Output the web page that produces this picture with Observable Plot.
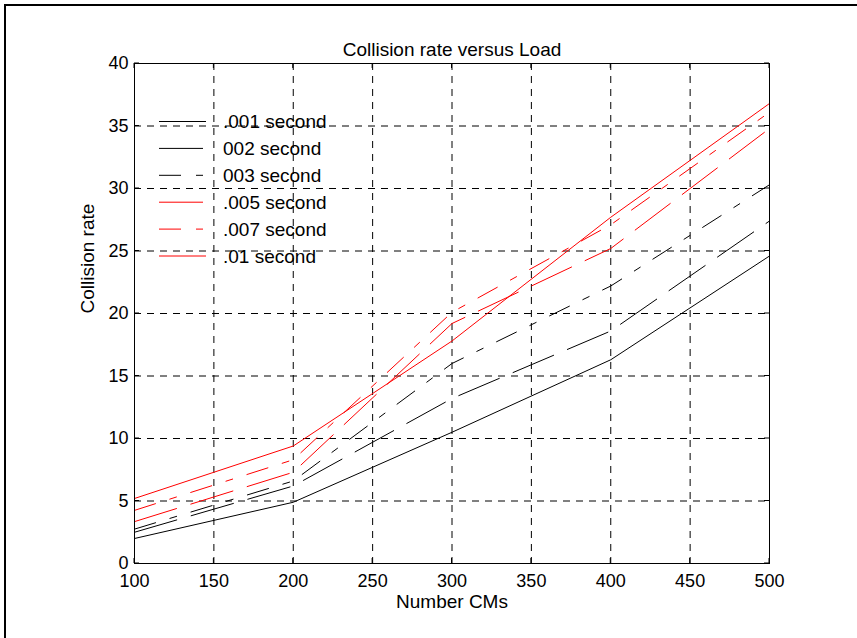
<!DOCTYPE html>
<html><head><meta charset="utf-8">
<script src="https://cdn.jsdelivr.net/npm/d3@7"></script>
<script src="https://cdn.jsdelivr.net/npm/@observablehq/plot@0.6"></script>
<style>
body{margin:0;background:#fff;}
#wrap{position:relative;width:857px;height:638px;overflow:hidden;font-family:"Liberation Sans",Arial,sans-serif;background:#fff;}
#frame{position:absolute;left:4px;top:4px;width:900px;height:700px;border-left:2px solid #000;border-top:2px solid #000;}
#wrap svg{position:absolute;left:0;top:0;}
</style></head><body><div id="wrap"><div id="frame"></div></div>
<script>
// ---- data ----
const loads = [100, 200, 300, 400, 500];
const seriesNames = [".001 second", "002 second", "003 second", ".005 second", ".007 second", ".01 second"];
const s001 = [2.0, 4.9, 10.5, 16.3, 24.6];
const s002 = [2.5, 6.2, 13.2, 18.6, 27.4];
const s003 = [2.75, 6.6, 16.0, 22.2, 30.3];
const s005 = [3.35, 7.3, 19.2, 25.2, 34.8];
const s007 = [4.25, 8.3, 20.1, 27.1, 36.1];
const s01  = [5.2, 9.4, 17.8, 27.7, 36.8];
const xTicks = [100, 150, 200, 250, 300, 350, 400, 450, 500];
const yTicks = [0, 5, 10, 15, 20, 25, 30, 35, 40];
const titleText = "Collision rate versus Load";
const xLabel = "Number CMs";
const yLabel = "Collision rate";

// ---- styles ----
const seriesValues = [s001, s002, s003, s005, s007, s01];
const seriesColors = ["#000000", "#000000", "#000000", "#ff0000", "#ff0000", "#ff0000"];
const seriesDash = [null, "44,15", "22,15,7,15", "44,15", "22,15,7,15", null];
const FS = 19, TFS = 18;

const lineMarks = seriesValues.map((vals, i) =>
  Plot.lineY(loads.map((x, j) => ({x, y: vals[j]})), {
    x: "x", y: "y", stroke: seriesColors[i], strokeWidth: 1,
    strokeDasharray: seriesDash[i] || undefined
  })
);

const grid = {stroke: "#000", strokeOpacity: 1, strokeWidth: 1, strokeDasharray: "7,6"};

const chart = Plot.plot({
  width: 857, height: 638,
  marginLeft: 134, marginRight: 88, marginTop: 63, marginBottom: 75,
  style: {fontFamily: "'Liberation Sans', Arial, sans-serif", fontSize: FS + "px", background: "transparent", color: "#000", overflow: "visible"},
  x: {type: "linear", domain: [100, 500]},
  y: {type: "linear", domain: [0, 40]},
  marks: [
    Plot.gridX(xTicks.slice(1, -1), grid),
    Plot.gridY(yTicks.slice(1, -1), grid),
    ...lineMarks,
    Plot.frame({stroke: "#000", strokeWidth: 1}),
    Plot.axisX(xTicks, {anchor: "bottom", tickSize: 0, tickPadding: 11, label: null, tickFormat: d => String(d), fontSize: TFS}),
    Plot.axisY(yTicks, {anchor: "left", tickSize: 0, tickPadding: 6, label: null, tickFormat: d => String(d), fontSize: TFS}),
    Plot.text([titleText], {frameAnchor: "top", dy: -21, fontSize: FS}),
    Plot.text([xLabel], {frameAnchor: "bottom", dy: 44, fontSize: FS}),
    Plot.text([yLabel], {frameAnchor: "left", dx: -47, rotate: -90, fontSize: FS})
  ]
});
document.getElementById("wrap").appendChild(chart);

// inward tick marks on all four sides
const sx = chart.scale("x"), sy = chart.scale("y");
const svg = d3.select(chart);
const tg = svg.append("g").attr("stroke", "#000").attr("stroke-width", 1);
const [x0, x1] = sx.range, [y0, y1] = sy.range; // y0 bottom, y1 top
const TL = 5;
xTicks.forEach(t => {
  const px = sx.apply(t);
  tg.append("line").attr("x1", px).attr("x2", px).attr("y1", y0).attr("y2", y0 - TL);
  tg.append("line").attr("x1", px).attr("x2", px).attr("y1", y1).attr("y2", y1 + TL);
});
yTicks.forEach(t => {
  const py = sy.apply(t);
  tg.append("line").attr("x1", x0).attr("x2", x0 + TL).attr("y1", py).attr("y2", py);
  tg.append("line").attr("x1", x1).attr("x2", x1 - TL).attr("y1", py).attr("y2", py);
});

// legend (no box), inside the axes
const lg = svg.append("g").attr("font-size", FS).attr("text-anchor", "start")
  .attr("font-family", "'Liberation Sans', Arial, sans-serif");
seriesNames.forEach((name, i) => {
  const cy = 121.5 + i * 26.9;
  const ln = lg.append("line").attr("x1", 159).attr("x2", 206).attr("y1", cy).attr("y2", cy)
    .attr("stroke", seriesColors[i]).attr("stroke-width", 1);
  if (seriesDash[i]) ln.attr("stroke-dasharray", seriesDash[i]);
  lg.append("text").attr("x", 223).attr("y", cy).attr("dy", "0.35em").attr("fill", "#000").text(name);
});
</script>
</body></html>
